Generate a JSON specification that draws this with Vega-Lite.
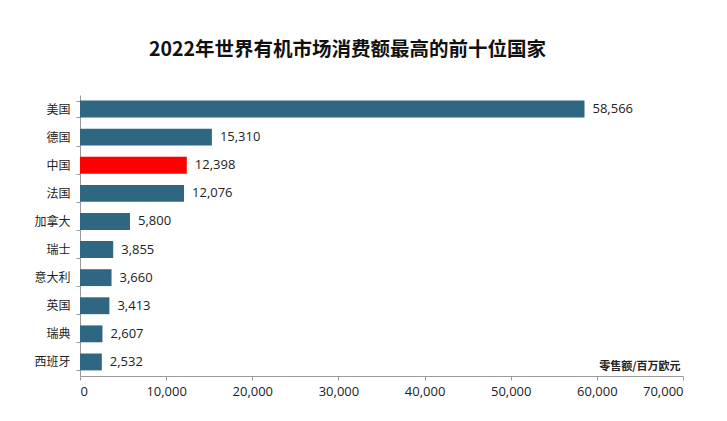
{
  "$schema": "https://vega.github.io/schema/vega-lite/v6.json",
  "width": 603,
  "height": 281,
  "autosize": "none",
  "padding": {"left": 80, "top": 95, "right": 44, "bottom": 45},
  "background": "white",
  "title": {
    "text": "2022年世界有机市场消费额最高的前十位国家",
    "font": "Noto Sans CJK SC",
    "fontSize": 19.5,
    "fontWeight": "bold",
    "color": "#111111",
    "anchor": "middle",
    "dx": -34,
    "offset": 29
  },
  "data": {
    "values": [
      {"country": "美国", "value": 58566, "hl": "n"},
      {"country": "德国", "value": 15310, "hl": "n"},
      {"country": "中国", "value": 12398, "hl": "y"},
      {"country": "法国", "value": 12076, "hl": "n"},
      {"country": "加拿大", "value": 5800, "hl": "n"},
      {"country": "瑞士", "value": 3855, "hl": "n"},
      {"country": "意大利", "value": 3660, "hl": "n"},
      {"country": "英国", "value": 3413, "hl": "n"},
      {"country": "瑞典", "value": 2607, "hl": "n"},
      {"country": "西班牙", "value": 2532, "hl": "n"}
    ]
  },
  "encoding": {
    "y": {
      "field": "country",
      "type": "nominal",
      "sort": null,
      "scale": {"paddingInner": 0.4, "paddingOuter": 0.2},
      "axis": {
        "title": null,
        "labelFont": "Noto Sans CJK SC",
        "labelFontSize": 12,
        "labelColor": "#222222",
        "labelPadding": 6,
        "domainColor": "#9a9a9a",
        "tickColor": "#9a9a9a",
        "tickSize": 4,
        "tickBand": "extent"
      }
    },
    "x": {
      "field": "value",
      "type": "quantitative",
      "scale": {"domain": [0, 70000], "nice": false},
      "axis": {
        "values": [0, 10000, 20000, 30000, 40000, 50000, 60000, 70000],
        "format": ",d",
        "grid": false,
        "title": "零售额/百万欧元",
        "titleFont": "Noto Sans CJK SC",
        "titleFontSize": 11,
        "titleFontWeight": "bold",
        "titleColor": "#222222",
        "titleAnchor": "end",
        "titleAlign": "right",
        "titleBaseline": "bottom",
        "titleX": 600,
        "titleY": -5,
        "labelFont": "Open Sans",
        "labelFontSize": 13,
        "labelColor": "#222222",
        "labelPadding": 5,
        "domainColor": "#9a9a9a",
        "tickColor": "#9a9a9a",
        "tickSize": 4
      }
    }
  },
  "layer": [
    {
      "mark": {"type": "bar"},
      "encoding": {
        "color": {
          "field": "hl",
          "type": "nominal",
          "scale": {"domain": ["n", "y"], "range": ["#2f6682", "#ff0000"]},
          "legend": null
        }
      }
    },
    {
      "mark": {
        "type": "text",
        "align": "left",
        "baseline": "middle",
        "dx": 8,
        "font": "Open Sans",
        "fontSize": 13,
        "color": "#222222"
      },
      "encoding": {
        "text": {"field": "value", "type": "quantitative", "format": ",d"}
      }
    }
  ],
  "config": {"view": {"stroke": null}}
}
